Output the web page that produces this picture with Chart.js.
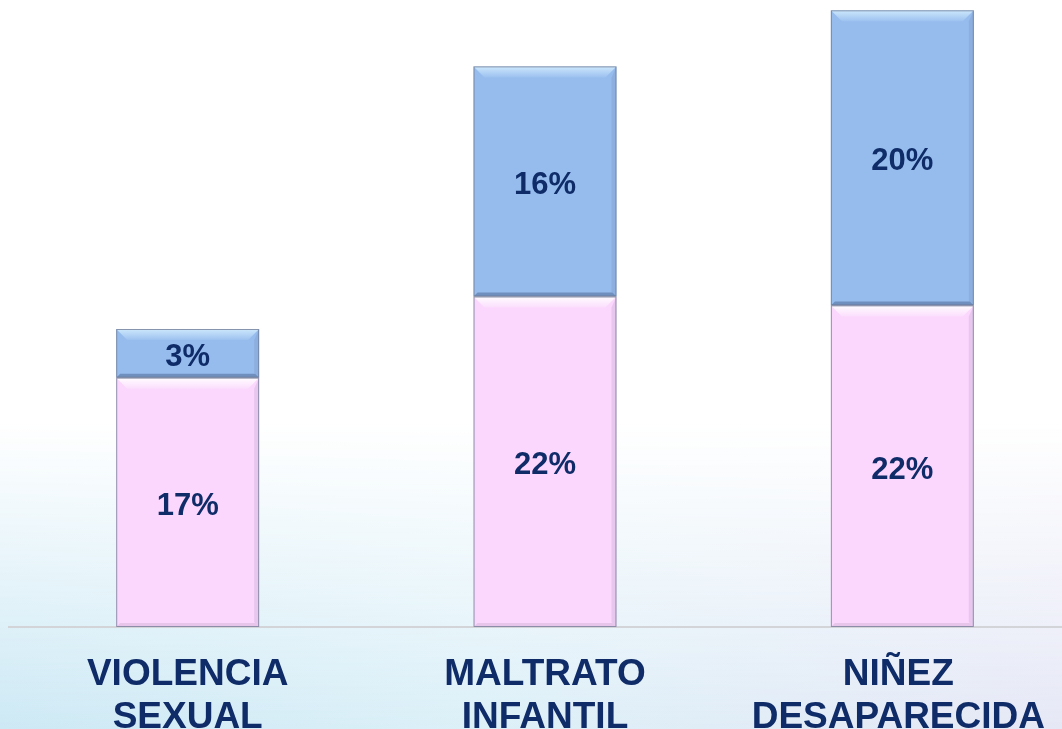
<!DOCTYPE html>
<html lang="es">
<head>
<meta charset="UTF-8">
<title>Violencia sexual, maltrato infantil, niñez desaparecida</title>
<script src="https://cdn.jsdelivr.net/npm/chart.js"></script>
<style>
  html, body { margin: 0; padding: 0; overflow: hidden; }
  body {
    width: 1062px; height: 729px;
    background:
      linear-gradient(to bottom, rgba(255,255,255,1) 58%, rgba(255,255,255,0) 100%),
      linear-gradient(to right, #cde9f5 0%, #dcf0f8 45%, #e6e8f6 100%);
  }
  #wrap { position: absolute; left: 0; top: 0; width: 1082px; height: 729px; }
</style>
</head>
<body>
<div id="wrap"><canvas id="chart"></canvas></div>
<script>
  // categorías y valores (%)
  const categories = [['VIOLENCIA', 'SEXUAL'], ['MALTRATO', 'INFANTIL'], ['NIÑEZ', 'DESAPARECIDA']];
  const lowerValues = [16.9, 22.4, 21.8];
  const upperValues = [3.3, 15.6, 20.0];

  const navy = '#0f2c68';

  // etiquetas de valor dentro de cada segmento + efecto biselado
  const barDecor = {
    id: 'barDecor',
    afterDatasetsDraw(chart) {
      const ctx = chart.ctx;
      chart.data.datasets.forEach((ds, di) => {
        const meta = chart.getDatasetMeta(di);
        meta.data.forEach((bar, i) => {
          const p = bar.getProps(['x', 'y', 'base', 'width'], true);
          const l = p.x - p.width / 2, r = p.x + p.width / 2;
          const t = Math.min(p.y, p.base), b = Math.max(p.y, p.base);
          const e = 11;
          ctx.save();
          // brillo superior
          const g = ctx.createLinearGradient(0, t, 0, t + e);
          g.addColorStop(0, di === 0 ? 'rgba(255,255,255,0.95)' : 'rgba(215,240,255,0.85)');
          g.addColorStop(1, di === 0 ? 'rgba(255,255,255,0.2)' : 'rgba(215,240,255,0.1)');
          ctx.fillStyle = g;
          ctx.beginPath();
          ctx.moveTo(l, t); ctx.lineTo(r, t); ctx.lineTo(r - e, t + e); ctx.lineTo(l + e, t + e);
          ctx.closePath(); ctx.fill();
          // lado derecho
          ctx.fillStyle = 'rgba(60,70,110,0.10)';
          ctx.beginPath();
          ctx.moveTo(r, t); ctx.lineTo(r, b); ctx.lineTo(r - 5, b - 5); ctx.lineTo(r - 5, t + e);
          ctx.closePath(); ctx.fill();
          // borde inferior
          ctx.fillStyle = di === 0 ? 'rgba(120,100,130,0.15)' : 'rgba(40,60,100,0.35)';
          ctx.beginPath();
          ctx.moveTo(l, b); ctx.lineTo(r, b); ctx.lineTo(r - 4, b - 4); ctx.lineTo(l + 4, b - 4);
          ctx.closePath(); ctx.fill();
          // contorno
          ctx.strokeStyle = 'rgba(110,120,145,0.75)';
          ctx.lineWidth = 1;
          ctx.strokeRect(l + 0.5, t + 0.5, p.width - 1, b - t - 1);
          // texto
          ctx.fillStyle = navy;
          ctx.font = 'bold 31px "Liberation Sans", Arial, sans-serif';
          ctx.textAlign = 'center';
          ctx.textBaseline = 'middle';
          ctx.fillText(Math.round(ds.data[i]) + '%', p.x, (t + b) / 2 + 4);
          ctx.restore();
        });
      });
    }
  };

  // nombres de categoría bajo la línea base
  const catLabels = {
    id: 'catLabels',
    afterDraw(chart) {
      const ctx = chart.ctx;
      const xs = chart.scales.x;
      const bottom = chart.chartArea.bottom;
      ctx.save();
      ctx.fillStyle = navy;
      ctx.font = 'bold 37px "Liberation Sans", Arial, sans-serif';
      ctx.textAlign = 'center';
      ctx.textBaseline = 'alphabetic';
      categories.forEach((lines, i) => {
        const x = xs.getPixelForValue(i) - (i === 2 ? 4 : 0);
        lines.forEach((txt, j) => ctx.fillText(txt, x, bottom + 58 + j * 43));
      });
      ctx.restore();
    }
  };

  new Chart(document.getElementById('chart'), {
    type: 'bar',
    data: {
      labels: categories.map(c => c.join(' ')),
      datasets: [
        {
          data: lowerValues,
          backgroundColor: '#fbd6fd',
          borderWidth: 0,
          barPercentage: 0.4,
          categoryPercentage: 1
        },
        {
          data: upperValues,
          backgroundColor: '#96bcee',
          borderWidth: 0,
          barPercentage: 0.4,
          categoryPercentage: 1
        }
      ]
    },
    options: {
      responsive: true,
      maintainAspectRatio: false,
      animation: false,
      layout: { padding: { left: 9, right: 1, top: 0, bottom: 102 } },
      plugins: { legend: { display: false }, tooltip: { enabled: false } },
      scales: {
        x: {
          stacked: true,
          ticks: { display: false },
          grid: { display: false, drawTicks: false, tickLength: 0 },
          border: { display: true, color: '#d2d4d8', width: 2 }
        },
        y: {
          stacked: true,
          display: false,
          min: 0,
          max: 42.5
        }
      }
    },
    plugins: [barDecor, catLabels]
  });
</script>
</body>
</html>
